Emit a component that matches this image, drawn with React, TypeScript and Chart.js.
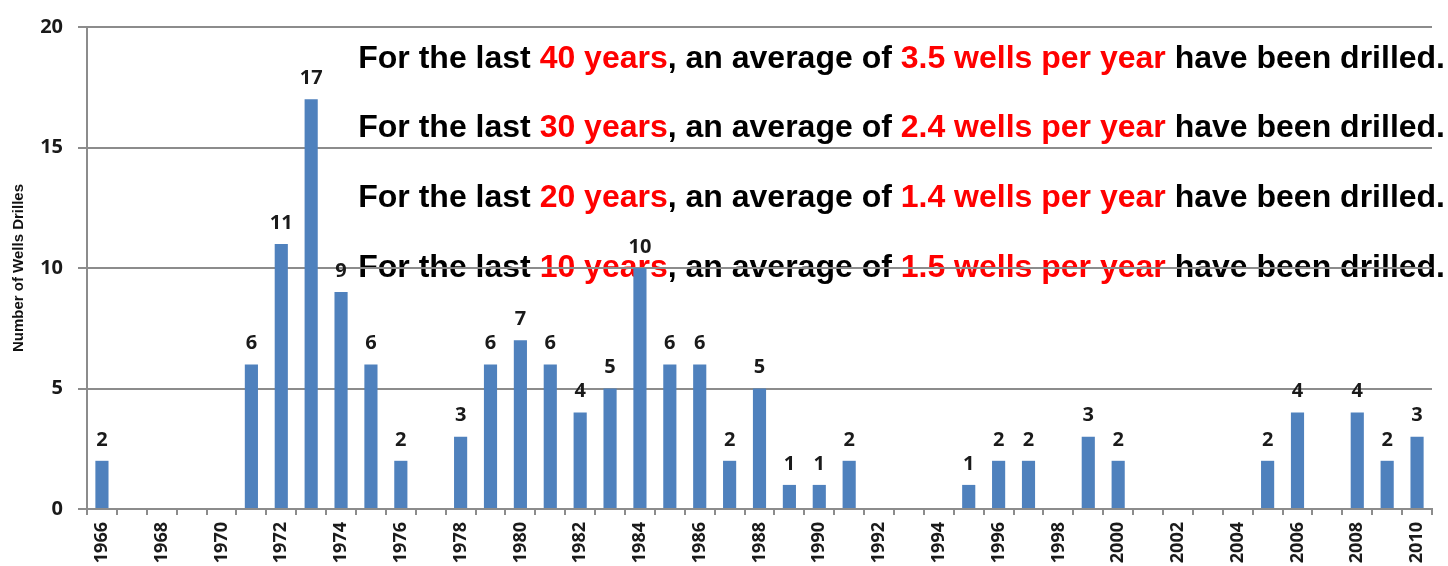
import React, { useEffect, useRef } from "react";
import { Chart, registerables } from "chart.js";

Chart.register(...registerables);

const years: string[] = [
  "1966", "1967", "1968", "1969", "1970", "1971", "1972", "1973", "1974", "1975",
  "1976", "1977", "1978", "1979", "1980", "1981", "1982", "1983", "1984", "1985",
  "1986", "1987", "1988", "1989", "1990", "1991", "1992", "1993", "1994", "1995",
  "1996", "1997", "1998", "1999", "2000", "2001", "2002", "2003", "2004", "2005",
  "2006", "2007", "2008", "2009", "2010",
];

const wellsDrilled: number[] = [
  2, 0, 0, 0, 0, 6, 11, 17, 9, 6,
  2, 0, 3, 6, 7, 6, 4, 5, 10, 6,
  6, 2, 5, 1, 1, 2, 0, 0, 0, 1,
  2, 2, 0, 3, 2, 0, 0, 0, 0, 2,
  4, 0, 4, 2, 3,
];

const yTicks: number[] = [0, 5, 10, 15, 20];

const periodYears: string[] = ["40", "30", "20", "10"];
const periodAverages: string[] = ["3.5", "2.4", "1.4", "1.5"];

const BLUE = "#4f81bd";
const GRID = "#8c8c8c";
const INK = "#1a1a1a";
const RED = "#ff0000";

const annotationPlugin = {
  id: "annotationText",
  beforeDraw(chart: any) {
    const ctx = chart.ctx as CanvasRenderingContext2D;
    const area = chart.chartArea;
    ctx.save();
    const rightX = chart.width - 3;
    const lineGap = 69.7;
    const firstBaseline = area.top + 40.5;
    const family = "'Liberation Sans', Arial, Helvetica, sans-serif";
    periodYears.forEach((p, i) => {
      const segs: [string, string][] = [
        ["For the last ", "#000000"],
        [p + " years", RED],
        [", an average of ", "#000000"],
        [periodAverages[i] + " wells per year", RED],
        [" have been drilled.", "#000000"],
      ];
      ctx.font = `bold 32px ${family}`;
      const full = segs.map((s) => s[0]).join("");
      const w = ctx.measureText(full).width;
      const size = (32 * 1087) / w;
      ctx.font = `bold ${size}px ${family}`;
      const total = ctx.measureText(full).width;
      let x = rightX - total;
      const y = firstBaseline + i * lineGap;
      ctx.textBaseline = "alphabetic";
      ctx.textAlign = "left";
      segs.forEach(([t, c]) => {
        ctx.fillStyle = c;
        ctx.fillText(t, x, y);
        x += ctx.measureText(t).width;
      });
    });
    ctx.restore();
  },
};

const valueLabelPlugin = {
  id: "valueLabels",
  afterDatasetsDraw(chart: any) {
    const ctx = chart.ctx as CanvasRenderingContext2D;
    const meta = chart.getDatasetMeta(0);
    const data = chart.data.datasets[0].data as number[];
    ctx.save();
    ctx.font = "bold 20px 'Open Sans', 'DejaVu Sans', sans-serif";
    ctx.fillStyle = INK;
    ctx.textAlign = "center";
    ctx.textBaseline = "middle";
    meta.data.forEach((bar: any, i: number) => {
      const v = data[i];
      if (!v) return;
      ctx.fillText(String(v), bar.x, bar.y - 21);
    });
    ctx.restore();
  },
};

export default function App() {
  const canvasRef = useRef<HTMLCanvasElement | null>(null);

  useEffect(() => {
    const canvas = canvasRef.current;
    if (!canvas) return;
    const chart = new Chart(canvas, {
      type: "bar",
      data: {
        labels: years,
        datasets: [
          {
            label: "Number of Wells Drilled",
            data: wellsDrilled,
            backgroundColor: BLUE,
            borderWidth: 0,
            barPercentage: 0.44,
            categoryPercentage: 1.0,
          },
        ],
      },
      options: {
        responsive: false,
        animation: false,
        devicePixelRatio: 1,
        layout: { padding: { top: 22.5, right: 16, left: 0, bottom: 0 } },
        plugins: {
          legend: { display: false },
          tooltip: { enabled: false },
        },
        scales: {
          x: {
            offset: true,
            grid: {
              offset: true,
              drawOnChartArea: false,
              drawTicks: true,
              tickLength: 6,
              color: GRID,
              lineWidth: 2,
            },
            border: { display: true, color: GRID, width: 2 },
            ticks: {
              autoSkip: false,
              minRotation: 90,
              maxRotation: 90,
              padding: 7,
              color: INK,
              font: { family: "'Open Sans', 'DejaVu Sans', sans-serif", size: 18, weight: "bold" },
              callback: (_v: any, idx: number) => (idx % 2 === 0 ? years[idx] : ""),
            },
            afterFit: (scale: any) => {
              scale.height = 57;
            },
          },
          y: {
            min: yTicks[0],
            max: yTicks[yTicks.length - 1],
            afterBuildTicks: (scale: any) => {
              scale.ticks = yTicks.map((v) => ({ value: v }));
            },
            grid: {
              color: GRID,
              lineWidth: 2,
              tickLength: 9,
              drawTicks: true,
            },
            border: { display: true, color: GRID, width: 2 },
            ticks: {
              padding: 15,
              color: INK,
              font: { family: "'Open Sans', 'DejaVu Sans', sans-serif", size: 20, weight: "bold" },
            },
            title: {
              display: true,
              text: "Number of Wells Drilles",
              color: "#111111",
              font: { family: "'Liberation Sans', Arial, sans-serif", size: 15, weight: "bold" },
              padding: { top: 10, bottom: 0 },
            },
            afterFit: (scale: any) => {
              scale.width = 87;
            },
          },
        },
      },
      plugins: [annotationPlugin, valueLabelPlugin],
    });
    return () => chart.destroy();
  }, []);

  return (
    <div
      style={{
        position: "fixed",
        left: 0,
        top: 0,
        width: 1448,
        height: 566,
        overflow: "hidden",
        background: "#ffffff",
      }}
    >
      <canvas ref={canvasRef} width={1448} height={566} style={{ display: "block" }} />
    </div>
  );
}
